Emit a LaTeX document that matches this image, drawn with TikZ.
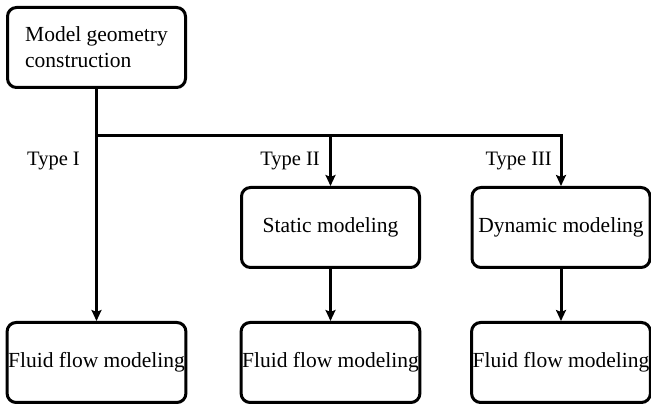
\documentclass[tikz,border=0pt]{standalone}
\usepackage{fontspec}
\setmainfont{Liberation Serif}
\usetikzlibrary{arrows.meta}
\begin{document}
\begin{tikzpicture}[
	x=1pt, y=1pt,
	stagebox/.style={ draw, rounded corners=9pt, line width=3pt, inner sep=1pt,
		minimum width=178pt, minimum height=80pt,
		font=\fontsize{21.5}{26}\selectfont },
	typelabel/.style={ anchor=east, inner sep=0pt, font=\fontsize{20.5}{24}\selectfont },
	flowarrow/.style={ line width=3pt, -{Stealth[length=11pt,width=10pt,inset=2pt]} }
]

\useasboundingbox (0,0) rectangle (651,407);
\node at (96.5,359.5) (geom) [stagebox,align=left] {Model geometry\\construction};
\node at (330.5,179.5) (static) [stagebox] {Static modeling};
\node at (561,179.5) (dynamic) [stagebox] {Dynamic modeling};
\node at (96.5,44.5) (flowa) [stagebox] {Fluid flow modeling};
\node at (330.5,44.5) (flowb) [stagebox] {Fluid flow modeling};
\node at (561,44.5) (flowc) [stagebox] {Fluid flow modeling};
\coordinate (split) at (96.5,271);
\coordinate (splitb) at (static.north |- split);
\coordinate (splitc) at (dynamic.north |- split);
\draw[flowarrow] (geom.south) -- (flowa.north);
\draw[flowarrow] (split) -- (splitc) -- (dynamic.north);
\draw[flowarrow] (splitb) -- (static.north);
\draw[flowarrow] (static.south) -- (flowb.north);
\draw[flowarrow] (dynamic.south) -- (flowc.north);
\node at (80,246) (typea) [typelabel] {Type I};
\node at (320,246) (typeb) [typelabel] {Type II};
\node at (552,246) (typec) [typelabel] {Type III};

\end{tikzpicture}
\end{document}
